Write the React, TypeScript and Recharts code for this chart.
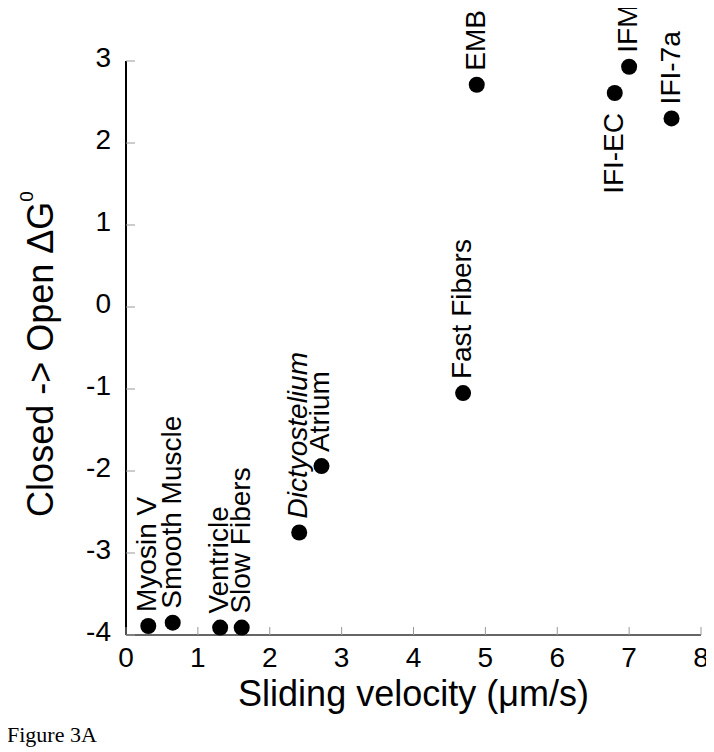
import React from 'react';
import { ScatterChart, Scatter, XAxis, YAxis, Customized } from 'recharts';

// values
const muscleNames = [
  'Myosin V', 'Smooth Muscle', 'Ventricle', 'Slow Fibers', 'Dictyostelium', 'Atrium',
  'Fast Fibers', 'EMB', 'IFI-EC', 'IFM', 'IFI-7a',
];
const slidingVelocity = [0.31, 0.65, 1.31, 1.61, 2.41, 2.72, 4.69, 4.88, 6.8, 7.0, 7.59];
const deltaG = [-3.89, -3.85, -3.91, -3.91, -2.75, -1.94, -1.05, 2.71, 2.61, 2.93, 2.3];

const xTicks = [0, 1, 2, 3, 4, 5, 6, 7, 8];
const yTicks = [-4, -3, -2, -1, 0, 1, 2, 3];

const italicNames = ['Dictyostelium'];
const labelBelow = ['IFI-EC'];

const FONT = '"Liberation Sans", Arial, Helvetica, sans-serif';

const points = muscleNames.map((name, i) => ({ name, x: slidingVelocity[i], y: deltaG[i] }));

// dot plus its rotated name
const DotWithLabel = (props: any) => {
  const { cx, cy, payload } = props;
  const below = labelBelow.includes(payload.name);
  const lx = cx + 8;
  const ly = below ? cy + 20 : cy - 14;
  return (
    <g>
      <circle cx={cx} cy={cy} r={8} fill="#000" />
      <text
        x={lx}
        y={ly}
        transform={`rotate(-90, ${lx}, ${ly})`}
        textAnchor={below ? 'end' : 'start'}
        fontFamily={FONT}
        fontSize={28}
        fontStyle={italicNames.includes(payload.name) ? 'italic' : 'normal'}
        fill="#000"
      >
        {payload.name}
      </text>
    </g>
  );
};

const XTick = (props: any) => {
  const { x, y, payload } = props;
  return (
    <g>
      <line x1={x} y1={y} x2={x} y2={y - 8} stroke="#999" strokeWidth={1} />
      <text x={x} y={y + 32} textAnchor="middle" fontFamily={FONT} fontSize={28} fill="#000">
        {payload.value}
      </text>
    </g>
  );
};

const YTick = (props: any) => {
  const { x, y, payload } = props;
  return (
    <g>
      <line x1={x} y1={y} x2={x + 9} y2={y} stroke="#999" strokeWidth={1} />
      <text x={x - 15} y={y + 6} textAnchor="end" fontFamily={FONT} fontSize={28} fill="#000">
        {payload.value}
      </text>
    </g>
  );
};

const XTitle = (props: any) => {
  const vb = props.viewBox;
  return (
    <text x={vb.x + vb.width / 2} y={vb.y + 71} textAnchor="middle" fontFamily={FONT} fontSize={36} fill="#000">
      Sliding velocity (μm/s)
    </text>
  );
};

const YTitle = (props: any) => {
  const vb = props.viewBox;
  const tx = vb.x + 45;
  const ty = vb.y + vb.height / 2 + 6;
  return (
    <text
      x={tx}
      y={ty}
      transform={`rotate(-90, ${tx}, ${ty})`}
      textAnchor="middle"
      fontFamily={FONT}
      fontSize={36}
      fill="#000"
    >
      Closed -&gt; Open ΔG
      <tspan fontSize={19} dy={-20}>0</tspan>
    </text>
  );
};

const Caption = () => (
  <text x={-1} y={742} fontFamily='"Liberation Serif", "Times New Roman", serif' fontSize={22} fill="#000">
    Figure 3A
  </text>
);

const App: React.FC = () => {
  return (
    <div style={{ width: 706, height: 752, marginTop: -8 }}>
      <ScatterChart width={706} height={752} margin={{ top: 61, right: 13, bottom: 57, left: 0 }}>
        <XAxis
          type="number"
          dataKey="x"
          domain={[0, 8]}
          ticks={xTicks}
          height={60}
          tickSize={0}
          tickMargin={0}
          tickLine={false}
          axisLine={{ stroke: '#333', strokeWidth: 1.5 }}
          tick={<XTick />}
          interval={0}
          label={{ content: <XTitle /> } as any}
        />
        <YAxis
          type="number"
          dataKey="y"
          domain={[-4, 3]}
          ticks={yTicks}
          width={118}
          tickSize={0}
          tickMargin={0}
          tickLine={false}
          axisLine={{ stroke: '#000', strokeWidth: 2 }}
          tick={<YTick />}
          interval={0}
          label={{ content: <YTitle /> } as any}
        />
        <Scatter data={points} shape={<DotWithLabel />} isAnimationActive={false} />
        <Customized component={Caption} />
      </ScatterChart>
    </div>
  );
};

export default App;
